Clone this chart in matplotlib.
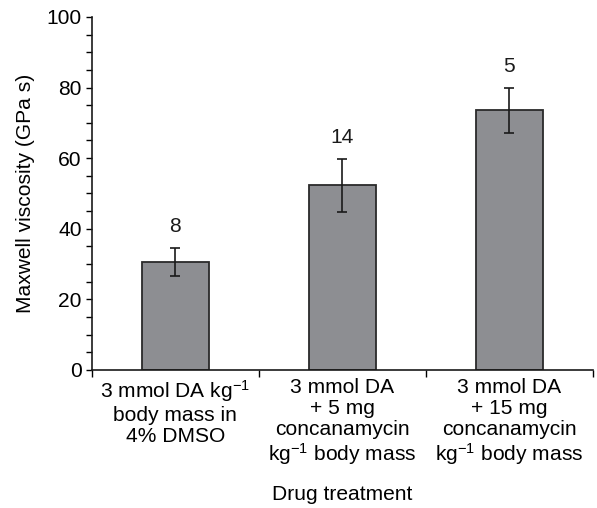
import matplotlib
matplotlib.use("Agg")
import matplotlib.pyplot as plt
from matplotlib.ticker import MultipleLocator

plt.rcParams['font.family'] = ['Liberation Sans', 'DejaVu Sans']
plt.rcParams['mathtext.fontset'] = 'custom'
plt.rcParams['mathtext.rm'] = 'Liberation Sans'
plt.rcParams['mathtext.it'] = 'Liberation Sans:italic'
plt.rcParams['mathtext.bf'] = 'Liberation Sans:bold'

categories = [
    "3 mmol DA kg$^{-1}$\nbody mass in\n4% DMSO",
    "3 mmol DA\n+ 5 mg\nconcanamycin\nkg$^{-1}$ body mass",
    "3 mmol DA\n+ 15 mg\nconcanamycin\nkg$^{-1}$ body mass",
]
means = [30.5, 52.3, 73.5]
errors = [4.0, 7.5, 6.4]
n_values = [8, 14, 5]

fs = 15.1
fig = plt.figure(figsize=(5.97, 5.08), dpi=100)
ax = fig.add_axes([0.154, 0.2717, 0.839, 0.695])

x = range(len(categories))
ax.bar(x, means, width=0.4, color="#8d8e92", edgecolor="#2a2a2a", linewidth=1.3, zorder=2)
ax.errorbar(x, means, yerr=errors, fmt="none", ecolor="#1a1a1a", elinewidth=1.2,
            capsize=3.5, capthick=1.2, zorder=3)
for xi, m, e, n in zip(x, means, errors, n_values):
    ax.text(xi, m + e + 6, str(n), ha="center", va="center", fontsize=fs, color="#1a1a1a")

ax.set_xlim(-0.5, 2.5)
ax.set_ylim(0, 100)
ax.yaxis.set_major_locator(MultipleLocator(20))
ax.yaxis.set_minor_locator(MultipleLocator(5))
ax.set_xticks([-0.5, 0.5, 1.5, 2.5])
ax.set_xticklabels([])
ax.set_xticks(list(x), minor=True)
ax.set_xticklabels(categories, minor=True, fontsize=fs, linespacing=1.12, va="top")
ax.tick_params(axis="x", which="minor", length=0, pad=6)
ax.tick_params(axis="x", which="major", length=5, width=1.0, direction="out")
ax.tick_params(axis="y", which="both", length=4.5, width=1.0, direction="out",
               labelsize=fs, pad=3)

for s in ["top", "right"]:
    ax.spines[s].set_visible(False)
for s in ["left", "bottom"]:
    ax.spines[s].set_linewidth(1.2)
    ax.spines[s].set_color("#1a1a1a")

ax.set_ylabel("Maxwell viscosity (GPa s)", fontsize=fs, labelpad=8)
ax.set_xlabel("Drug treatment", fontsize=fs, labelpad=13)

fig.savefig("out.png", dpi=100)
